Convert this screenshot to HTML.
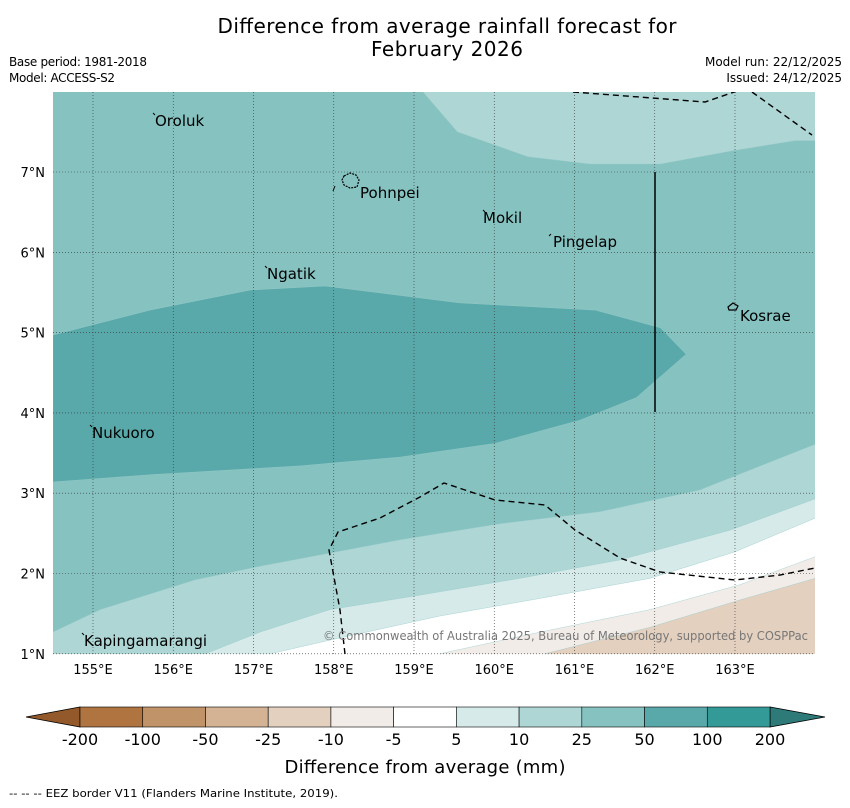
<!DOCTYPE html>
<html><head><meta charset="utf-8"><style>
body{margin:0;background:#fff;font-family:"DejaVu Sans","Liberation Sans",sans-serif;}
svg text{font-family:"DejaVu Sans","Liberation Sans",sans-serif;}
</style></head><body>
<svg id="chart" width="850" height="804" xmlns="http://www.w3.org/2000/svg">
<text x="447" y="33" font-size="20" text-anchor="middle" textLength="459">Difference from average rainfall forecast for</text>
<text x="447" y="56" font-size="20" text-anchor="middle" textLength="152">February 2026</text>
<text x="9" y="66" font-size="12" textLength="138">Base period: 1981-2018</text>
<text x="9" y="82" font-size="12" textLength="106">Model: ACCESS-S2</text>
<text x="842" y="66" font-size="12" text-anchor="end">Model run: 22/12/2025</text>
<text x="842" y="82" font-size="12" text-anchor="end">Issued: 24/12/2025</text>
<defs><clipPath id="mc"><rect x="53" y="92" width="762" height="562"/></clipPath></defs>
<g id="map" clip-path="url(#mc)">
<rect x="53" y="92" width="762" height="562" fill="#85c2c0"/>
</g>
<g id="grid"></g>
<g id="overlay" clip-path="url(#mc)">
<path d="M573,92 L705,102 L740,90 M752,92 L812,135" fill="none" stroke="#000" stroke-width="1.4" stroke-dasharray="6,4"/>
<path d="M345,654 L340,610 L329,550 L338,532 L380,518 L420,497 L444,483 L495,500 L545,505 L575,530 L620,558 L660,572 L735,580 L780,575 L815,568" fill="none" stroke="#000" stroke-width="1.4" stroke-dasharray="6,4"/>
<line x1="655" y1="172" x2="655" y2="412" stroke="#000" stroke-width="1.5"/>
<path d="M344,176 L350,173 L356,175 L359,180 L357,187 L350,188 L344,185 L342,180 Z" fill="none" stroke="#000" stroke-width="1.2" stroke-dasharray="2,1"/>
<path d="M333,191 L335,186" stroke="#000"/>
<path d="M728,307 L733,303 L738,306 L736,310 L729,310 Z" fill="none" stroke="#000" stroke-width="1.2"/>
<path d="M153,113 L155,115 M483,210 L485,212 M549,236 L551,234 M265,266 L267,268 M90,425 L92,427 M82,633 L84,635" stroke="#000"/>
<text x="155" y="126" font-size="15">Oroluk</text>
<text x="360" y="198" font-size="15">Pohnpei</text>
<text x="483" y="223" font-size="15">Mokil</text>
<text x="553" y="247" font-size="15">Pingelap</text>
<text x="267" y="279" font-size="15">Ngatik</text>
<text x="740" y="321" font-size="15">Kosrae</text>
<text x="92" y="438" font-size="15">Nukuoro</text>
<text x="84" y="646" font-size="15">Kapingamarangi</text>
<text x="323" y="640" font-size="12" fill="#777" textLength="485" lengthAdjust="spacingAndGlyphs">© Commonwealth of Australia 2025, Bureau of Meteorology, supported by COSPPac</text>
</g>
<g id="axes"></g>
<g id="cbar"></g>
<text x="425" y="773" font-size="18" text-anchor="middle" textLength="281">Difference from average (mm)</text>
<text x="9" y="797" font-size="11" textLength="329" lengthAdjust="spacingAndGlyphs">--  --  -- EEZ border V11 (Flanders Marine Institute, 2019).</text>
</svg>
<script>
const lonTicks=[155,156,157,158,159,160,161,162,163];
const latTicks=[1,2,3,4,5,6,7];
const cbarLevels=["-200","-100","-50","-25","-10","-5","5","10","25","50","100","200"];
const cbarColors=["#af7440","#c09468","#d4b394","#e3d0bf","#f1ece8","#ffffff","#d5eae9","#aed6d5","#85c2c0","#5aa9aa","#339a98"];
const northLight=[[159.11,8.0],[159.54,7.5],[160.42,7.19],[161.19,7.1],[162.07,7.1],[163.0,7.27],[163.75,7.39],[164.0,7.39]];
const wetBand=[[154.5,4.97],[155.71,5.28],[156.96,5.53],[157.89,5.58],[159.57,5.37],[161.26,5.28],[162.07,5.06],[162.39,4.73],[161.77,4.19],[161.07,3.91],[160.01,3.62],[158.83,3.45],[157.58,3.34],[155.71,3.23],[154.5,3.14]];
const c10=[[154.5,1.27],[155.09,1.55],[156.27,1.92],[157.08,2.09],[158.83,2.42],[160.07,2.62],[161.32,2.77],[162.56,3.04],[164,3.61]];
const c5=[[156.4,1.0],[157.08,1.27],[157.95,1.55],[159.07,1.73],[160.32,1.94],[161.57,2.17],[162.94,2.54],[164,2.93]];
const cm5=[[157.21,1.0],[157.95,1.17],[159.32,1.47],[160.57,1.69],[161.94,1.94],[163.0,2.27],[164,2.69]];
const cm10=[[159.32,1.0],[160.57,1.27],[161.94,1.55],[163.06,1.86],[164,2.21]];
const cm25=[[160.63,1.0],[161.94,1.33],[163.06,1.67],[164,1.94]];
const X=lon=>93+(lon-155)*80.25;
const Y=lat=>172+(7-lat)*80.3;
const NS="http://www.w3.org/2000/svg";
function mk(t,a,p){const e=document.createElementNS(NS,t);for(const k in a)e.setAttribute(k,a[k]);p.appendChild(e);return e;}
const map=document.getElementById('map');
function poly(pts,fill,extra){const all=pts.concat(extra);const e=mk('polygon',{points:all.map(p=>X(p[0])+','+Y(p[1])).join(' '),fill:fill,stroke:'#9cc',"stroke-width":0.4},map);return e;}
let e;
e=poly(northLight,"#aed6d5",[[164.2,8.2],[159.11,8.2]]);


e=poly(wetBand,"#5aa9aa",[]);


const low=[[c10,"#aed6d5","contour-10-25-south"],[c5,"#d5eae9","contour-5-10"],[cm5,"#ffffff","contour-neutral"],[cm10,"#f1ece8","contour-minus-5-10"],[cm25,"#e3d0bf","contour-minus-10-25"]];
low.forEach(l=>{
 const p=l[0];
 e=poly(p,l[1],[[164.2,p[p.length-1][1]],[164.2,0.8],[p[0][0],0.8]]);
 
 
});
const grid=document.getElementById('grid');
const axes=document.getElementById('axes');
lonTicks.forEach(v=>{
 e=mk('line',{x1:X(v),x2:X(v),y1:92,y2:654,stroke:'#333',"stroke-width":0.6,"stroke-dasharray":"1,2"},grid);
 
 
 e=mk('text',{x:X(v),y:674,"font-size":13,"text-anchor":"middle"},axes);e.textContent=v+"°E";
 
 
});
latTicks.forEach(v=>{
 e=mk('line',{x1:53,x2:815,y1:Y(v),y2:Y(v),stroke:'#333',"stroke-width":0.6,"stroke-dasharray":"1,2"},grid);
 
 
 e=mk('text',{x:45,y:Y(v)+5,"font-size":13,"text-anchor":"end"},axes);e.textContent=v+"°N";
 
 
});
const cb=document.getElementById('cbar');
const cx0=80,cx1=770,cy=707,ch=20,cw=(cx1-cx0)/cbarColors.length;
e=mk('polygon',{points:`${cx0},${cy} ${cx0},${cy+ch} 26,${cy+ch/2}`,fill:"#93592a",stroke:"#000","stroke-width":0.8},cb);


e=mk('polygon',{points:`${cx1},${cy} ${cx1},${cy+ch} 825,${cy+ch/2}`,fill:"#2e7a78",stroke:"#000","stroke-width":0.8},cb);


cbarColors.forEach((c,i)=>{
 e=mk('rect',{x:cx0+i*cw,y:cy,width:cw,height:ch,fill:c,stroke:"#000","stroke-width":0.6},cb);
 
 
});
cbarLevels.forEach((t,i)=>{
 e=mk('text',{x:cx0+i*cw,y:745,"font-size":16,"text-anchor":"middle"},cb);e.textContent=t;
 
 
});
</script>
</body></html>
